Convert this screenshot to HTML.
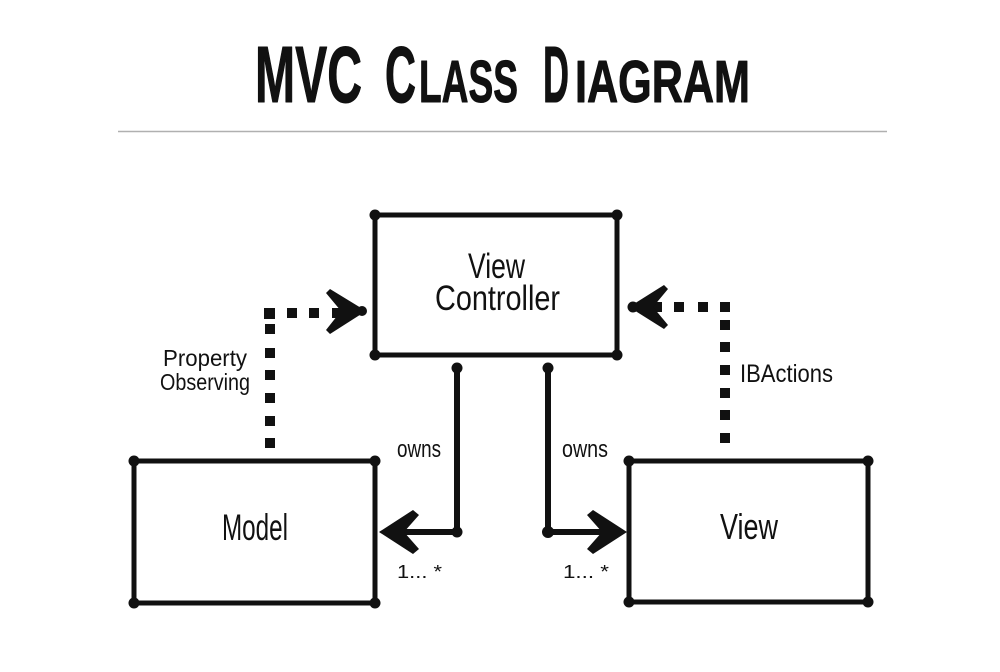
<!DOCTYPE html>
<html>
<head>
<meta charset="utf-8">
<style>
html,body{margin:0;padding:0;background:#fff;}
svg{display:block;}
text{font-family:"Liberation Sans",sans-serif;fill:#111;}
</style>
</head>
<body>
<svg width="1000" height="672" viewBox="0 0 1000 672" xmlns="http://www.w3.org/2000/svg">
  <rect width="1000" height="672" fill="#fff"/>

  <!-- Title -->
  <g font-weight="bold" stroke="#111" stroke-width="1" stroke-linejoin="round">
    <text x="255" y="102" font-size="80" textLength="107" lengthAdjust="spacingAndGlyphs">MVC</text>
    <text x="385" y="102" font-size="80" textLength="31" lengthAdjust="spacingAndGlyphs">C</text>
    <text x="419" y="102" font-size="59" textLength="99" lengthAdjust="spacingAndGlyphs">LASS</text>
    <text x="543" y="102" font-size="80" textLength="26" lengthAdjust="spacingAndGlyphs">D</text>
    <text x="575" y="102" font-size="59" textLength="175" lengthAdjust="spacingAndGlyphs">IAGRAM</text>
  </g>
  <line x1="118" y1="131.5" x2="887" y2="131.5" stroke="#b0b0b0" stroke-width="1.5"/>

  <!-- Boxes -->
  <g fill="none" stroke="#111" stroke-width="5" stroke-linejoin="round">
    <rect x="375" y="215" width="242" height="140"/>
    <rect x="134" y="461" width="241" height="142"/>
    <rect x="629" y="461" width="239" height="141"/>
  </g>
  <g fill="#111">
    <circle cx="375" cy="215" r="5.5"/><circle cx="617" cy="215" r="5.5"/>
    <circle cx="375" cy="355" r="5.5"/><circle cx="617" cy="355" r="5.5"/>
    <circle cx="134" cy="461" r="5.5"/><circle cx="375" cy="461" r="5.5"/>
    <circle cx="134" cy="603" r="5.5"/><circle cx="375" cy="603" r="5.5"/>
    <circle cx="629" cy="461" r="5.5"/><circle cx="868" cy="461" r="5.5"/>
    <circle cx="629" cy="602" r="5.5"/><circle cx="868" cy="602" r="5.5"/>
  </g>

  <!-- Box labels -->
  <text x="468" y="278" font-size="35" textLength="57" lengthAdjust="spacingAndGlyphs">View</text>
  <text x="435" y="310" font-size="35" textLength="125" lengthAdjust="spacingAndGlyphs">Controller</text>
  <text x="222" y="540" font-size="37" textLength="66" lengthAdjust="spacingAndGlyphs">Model</text>
  <text x="720" y="539" font-size="36" textLength="58" lengthAdjust="spacingAndGlyphs">View</text>

  <!-- Property Observing dotted connector -->
  <g fill="#111">
    <rect x="264" y="308" width="11" height="11"/>
    <rect x="265" y="324" width="10" height="10"/>
    <rect x="265" y="348" width="10" height="10"/>
    <rect x="265" y="370" width="10" height="10"/>
    <rect x="265" y="393" width="10" height="10"/>
    <rect x="265" y="416" width="10" height="10"/>
    <rect x="265" y="438" width="10" height="10"/>
    <rect x="287" y="308" width="10" height="10"/>
    <rect x="309" y="308" width="10" height="10"/>
    <rect x="332" y="308" width="10" height="10"/>
    <polygon points="366,311 330,289 326,293 341,311 326,330 330,334"/>
    <circle cx="362" cy="311" r="5"/>
  </g>
  <text x="163" y="366" font-size="23" textLength="84" lengthAdjust="spacingAndGlyphs">Property</text>
  <text x="160" y="390" font-size="23" textLength="90" lengthAdjust="spacingAndGlyphs">Observing</text>

  <!-- IBActions dotted connector -->
  <g fill="#111">
    <rect x="720" y="302" width="10" height="10"/>
    <rect x="720" y="320" width="10" height="10"/>
    <rect x="720" y="342" width="10" height="10"/>
    <rect x="720" y="365" width="10" height="10"/>
    <rect x="720" y="388" width="10" height="10"/>
    <rect x="720" y="410" width="10" height="10"/>
    <rect x="720" y="433" width="10" height="10"/>
    <rect x="698" y="302" width="10" height="10"/>
    <rect x="674" y="302" width="10" height="10"/>
    <rect x="652" y="302" width="10" height="10"/>
    <polygon points="629,307 664,285 668,289 653,307 668,325 664,329"/>
    <circle cx="633" cy="307" r="5.5"/>
  </g>
  <text x="740" y="382" font-size="25" textLength="93" lengthAdjust="spacingAndGlyphs">IBActions</text>

  <!-- owns connectors -->
  <g fill="none" stroke="#111" stroke-width="6" stroke-linejoin="round" stroke-linecap="round">
    <polyline points="457,368 457,532 392,532"/>
    <polyline points="548,368 548,532 614,532"/>
  </g>
  <g fill="#111">
    <circle cx="457" cy="368" r="5.5"/>
    <circle cx="457" cy="532" r="5.5"/>
    <circle cx="548" cy="368" r="5.5"/>
    <circle cx="548" cy="532" r="6"/>
    <polygon points="379,532 413,510 419,515 404,532 419,549 413,554"/>
    <polygon points="627,532 593,510 587,515 602,532 587,549 593,554"/>
  </g>
  <text x="397" y="457" font-size="24" textLength="44" lengthAdjust="spacingAndGlyphs">owns</text>
  <text x="562" y="457" font-size="24" textLength="46" lengthAdjust="spacingAndGlyphs">owns</text>
  <text x="397" y="578" font-size="18" textLength="45" lengthAdjust="spacingAndGlyphs">1... *</text>
  <text x="563" y="578" font-size="18" textLength="46" lengthAdjust="spacingAndGlyphs">1... *</text>
</svg>
</body>
</html>
